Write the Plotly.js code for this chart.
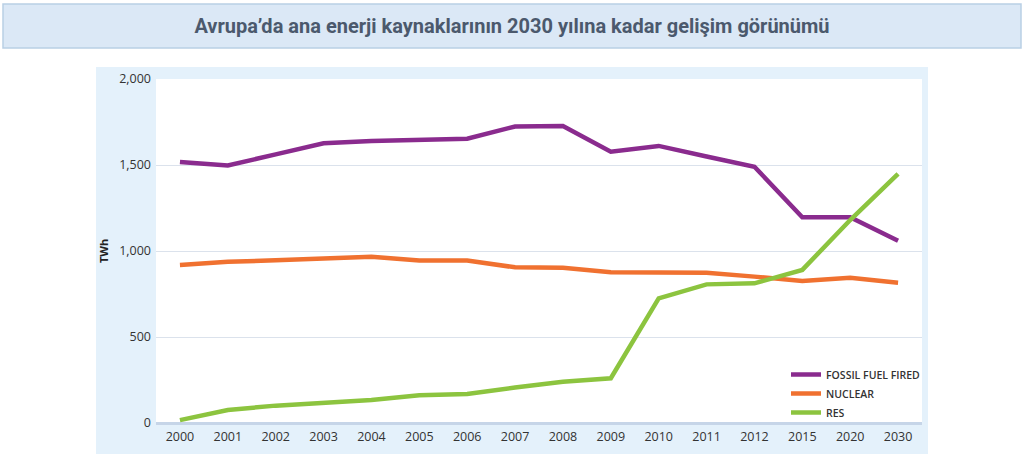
<!DOCTYPE html>
<html>
<head>
<meta charset="utf-8">
<script src="https://cdn.plot.ly/plotly-3.0.1.min.js"></script>
<style>
html,body{margin:0;padding:0;background:#fff;}
#chart{width:1024px;height:457px;}
</style>
</head>
<body>
<div id="chart"></div>
<script>
const years = ['2000','2001','2002','2003','2004','2005','2006','2007','2008','2009','2010','2011','2012','2015','2020','2030'];
const fossil = [1518,1497,1562,1626,1640,1647,1653,1724,1727,1577,1611,1549,1490,1196,1196,1059];
const nuclear = [919,937,946,953,966,945,945,905,903,876,875,874,851,826,845,816];
const res = [17,76,101,120,134,162,168,206,240,260,725,806,812,890,1180,1448];
const seriesNames = ['FOSSIL FUEL FIRED','NUCLEAR','RES'];
const yTicks = [0,500,1000,1500,2000];
const yTickText = ['0','500','1,000','1,500','2,000'];

const colors = ['#8a2b8e','#f07130','#8cc43f'];
const traces = [fossil, nuclear, res].map((v,i)=>({
  type:'scatter', mode:'lines', x:years, y:v, name:seriesNames[i],
  line:{color:colors[i], width:4.5}
}));

const W=1024, H=457, L=156, R=1024-922, T=79, B=457-423;
const pw = W-L-R, ph = H-T-B;
const px = x => (x-L)/pw;
const py = y => (H-B-y)/ph;

const layout = {
  width:W, height:H,
  margin:{l:L, r:R, t:T, b:B, pad:0},
  paper_bgcolor:'#ffffff',
  plot_bgcolor:'#ffffff',
  font:{family:'"Open Sans", sans-serif', color:'#333333', size:12},
  title:{text:'Avrupa’da ana enerji kaynaklarının 2030 yılına kadar gelişim görünümü',
    font:{family:'Roboto, sans-serif', size:20, color:'#4b596d', weight:700},
    x:512/W, xanchor:'center', xref:'container', y:1-26/H, yanchor:'middle', yref:'container'},
  xaxis:{type:'category', range:[-0.5,15.5], showgrid:false, zeroline:false,
    showline:false, ticks:'', tickfont:{size:12.5, color:'#333'}, ticklabelstandoff:4, fixedrange:true},
  yaxis:{range:[0,2000], tickvals:yTicks, ticktext:yTickText, showgrid:true,
    gridcolor:'#dbe2ec', gridwidth:1, zeroline:true, zerolinecolor:'#c6d5e8', zerolinewidth:3,
    showline:false, ticks:'', tickfont:{size:12.5, color:'#333'}, ticklabelstandoff:4,
    title:{text:'TWh', font:{size:11, color:'#222', weight:700}, standoff:8}, fixedrange:true},
  legend:{x:px(786), y:py(360), xanchor:'left', yanchor:'top', bgcolor:'rgba(0,0,0,0)',
    font:{size:10.5, color:'#333', weight:600}, tracegroupgap:0, itemwidth:30},
  showlegend:true,
  shapes:[
    {type:'rect', xref:'paper', yref:'paper', layer:'below',
     x0:px(96), x1:px(928), y0:py(454), y1:py(67),
     fillcolor:'#e4f1fb', line:{width:0}},
    {type:'rect', xref:'paper', yref:'paper', layer:'below',
     x0:0, x1:1, y0:0, y1:1,
     fillcolor:'#ffffff', line:{width:0}},
    {type:'rect', xref:'paper', yref:'paper', layer:'below',
     x0:px(3), x1:px(1021), y0:py(48), y1:py(4),
     fillcolor:'#dbe8f6', line:{color:'#b9cfe5', width:1.5}}
  ]
};

Plotly.newPlot('chart', traces, layout, {displayModeBar:false, staticPlot:true});
</script>
</body>
</html>
